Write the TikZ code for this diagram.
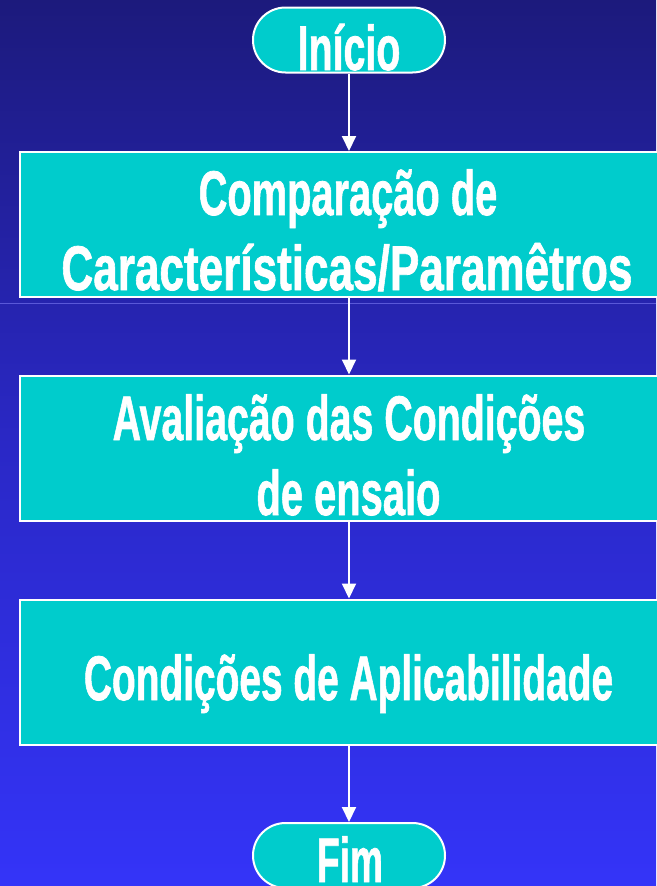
\documentclass[tikz,border=0pt]{standalone}
\usepackage{fontspec}
\setmainfont{Liberation Sans}
\newfontfamily\heavy{Liberation Sans}[BoldFeatures={FakeBold=1.3}]
\usetikzlibrary{arrows.meta,shapes.misc}
\definecolor{bgtop}{HTML}{1C1A7C}
\definecolor{bgmid}{HTML}{2A28C6}
\definecolor{bgbot}{HTML}{3434F8}
\definecolor{boxcyan}{HTML}{00CCCC}
\definecolor{bandline}{HTML}{5A58D8}
\newcommand{\lbl}[2]{\scalebox{#1}[1]{\fontsize{63}{75}\heavy\bfseries #2}}
\tikzset{
  stepbox/.style={draw=white, line width=2pt, fill=boxcyan, rectangle, minimum width=656pt, minimum height=145pt, inner sep=0pt},
  pill/.style={draw=white, line width=2pt, fill=boxcyan, rounded rectangle, minimum width=192pt, minimum height=65pt, inner sep=0pt},
  txt/.style={text=white, inner sep=0pt, anchor=base},
  flow/.style={draw=white, line width=2pt, -{Triangle[width=14pt,length=15pt]}}
}
\begin{document}
\begin{tikzpicture}[x=1pt,y=-1pt]
\useasboundingbox (0,0) rectangle (656,886);
\shade[top color=bgtop, bottom color=bgbot, middle color=bgmid] (0,0) rectangle (656,886);
\draw[bandline, line width=1pt] (0,303) -- (656,303);
\node[pill] (start) at (349,40) {};
\node[stepbox] (b1) at (348,224.5) {};
\node[stepbox] (b2) at (348,448) {};
\node[stepbox] (b3) at (348,672) {};
\node[pill] (end) at (349,855.5) {};
\node[txt] (t0) at (349,70) {\lbl{0.624}{Início}};
\node[txt] (t1a) at (348,215) {\lbl{0.632}{Comparação de}};
\node[txt] (t1b) at (347,290) {\lbl{0.700}{Características/Paramêtros}};
\node[txt] (t2a) at (349,440) {\lbl{0.624}{Avaliação das Condições}};
\node[txt] (t2b) at (348.5,515) {\lbl{0.633}{de ensaio}};
\node[txt] (t3) at (348.5,700) {\lbl{0.617}{Condições de Aplicabilidade}};
\node[txt] (t4) at (350,882) {\lbl{0.59}{Fim}};
\draw[flow] (start.south) -- (start.south |- b1.north);
\draw[flow] (start.south |- b1.south) -- (start.south |- b2.north);
\draw[flow] (start.south |- b2.south) -- (start.south |- b3.north);
\draw[flow] (start.south |- b3.south) -- (end.north);
\end{tikzpicture}
\end{document}
